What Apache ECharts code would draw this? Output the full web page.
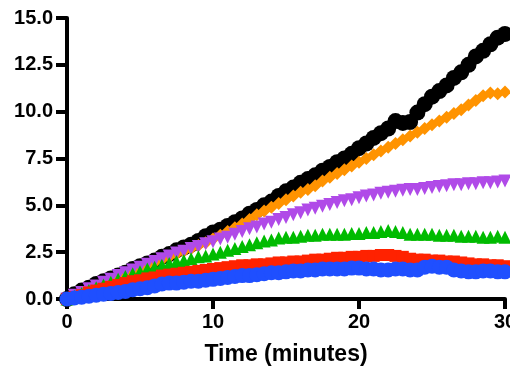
<!DOCTYPE html>
<html>
<head>
<meta charset="utf-8">
<script src="https://cdn.jsdelivr.net/npm/echarts@6/dist/echarts.min.js"></script>
<style>html,body{margin:0;padding:0;background:#fff}#c{width:510px;height:382px}</style>
</head>
<body>
<div id="c"></div>
<script>
var times = [0,0.5,1,1.5,2,2.5,3,3.5,4,4.5,5,5.5,6,6.5,7,7.5,8,8.5,9,9.5,10,10.5,11,11.5,12,12.5,13,13.5,14,14.5,15,15.5,16,16.5,17,17.5,18,18.5,19,19.5,20,20.5,21,21.5,22,22.5,23,23.5,24,24.5,25,25.5,26,26.5,27,27.5,28,28.5,29,29.5,30];
var blackVals = [0,0.25,0.45,0.6,0.8,0.95,1.1,1.25,1.4,1.6,1.75,1.9,2.05,2.25,2.4,2.6,2.75,2.9,3.1,3.35,3.55,3.7,3.9,4.1,4.3,4.55,4.75,5.0,5.2,5.5,5.75,5.95,6.2,6.4,6.6,6.85,7.05,7.3,7.5,7.75,8.05,8.3,8.6,8.85,9.1,9.5,9.4,9.45,9.95,10.4,10.8,11.1,11.4,11.8,12.1,12.5,12.95,13.25,13.6,13.95,14.15];
var orangeVals = [0,0.15,0.3,0.45,0.6,0.8,0.95,1.15,1.3,1.45,1.6,1.8,1.95,2.1,2.25,2.4,2.55,2.7,2.85,3.0,3.2,3.4,3.6,3.8,4.0,4.25,4.5,4.7,4.9,5.1,5.3,5.5,5.7,5.85,6.05,6.3,6.5,6.7,6.9,7.1,7.3,7.5,7.7,7.9,8.1,8.3,8.5,8.7,8.9,9.1,9.3,9.5,9.7,9.9,10.1,10.35,10.6,10.85,11.0,10.95,11.05];
var purpleVals = [0,0.2,0.35,0.55,0.7,0.9,1.05,1.25,1.4,1.55,1.7,1.85,2.0,2.15,2.3,2.45,2.55,2.7,2.8,2.95,3.05,3.2,3.3,3.45,3.6,3.75,3.85,4.0,4.1,4.25,4.35,4.5,4.6,4.75,4.85,4.95,5.05,5.15,5.25,5.3,5.4,5.5,5.55,5.65,5.7,5.75,5.8,5.85,5.85,5.9,5.95,6.0,6.05,6.1,6.1,6.15,6.15,6.2,6.2,6.25,6.3];
var greenVals = [0,0.15,0.3,0.45,0.6,0.75,0.9,1.05,1.2,1.35,1.45,1.6,1.7,1.8,1.9,2.0,2.05,2.15,2.25,2.3,2.4,2.5,2.6,2.7,2.8,2.9,3.0,3.1,3.15,3.25,3.3,3.3,3.35,3.4,3.4,3.45,3.45,3.45,3.45,3.5,3.5,3.55,3.55,3.6,3.65,3.6,3.55,3.45,3.45,3.45,3.45,3.4,3.4,3.4,3.35,3.35,3.35,3.3,3.3,3.35,3.3];
var redVals = [0,0.1,0.2,0.35,0.45,0.55,0.65,0.75,0.85,0.95,1.0,1.1,1.15,1.25,1.3,1.35,1.4,1.45,1.5,1.55,1.6,1.65,1.7,1.75,1.8,1.8,1.85,1.85,1.9,1.95,1.95,2.0,2.0,2.05,2.1,2.1,2.15,2.2,2.2,2.25,2.25,2.3,2.3,2.35,2.35,2.3,2.25,2.15,2.1,2.1,2.05,2.05,2.0,2.0,1.95,1.9,1.85,1.85,1.8,1.8,1.75];
var blueVals = [0,0.05,0.1,0.15,0.2,0.25,0.3,0.35,0.4,0.5,0.55,0.6,0.7,0.8,0.85,0.85,0.9,0.95,0.95,1.0,1.05,1.1,1.15,1.2,1.25,1.25,1.3,1.35,1.4,1.4,1.45,1.5,1.5,1.55,1.55,1.6,1.6,1.6,1.6,1.65,1.65,1.6,1.6,1.55,1.55,1.6,1.6,1.55,1.55,1.7,1.75,1.7,1.7,1.55,1.5,1.45,1.45,1.5,1.5,1.45,1.45];
var xTicks = [0,10,20,30];
var yTicks = [0,2.5,5,7.5,10,12.5,15];

function pts(vals){ return vals.map(function(v,i){ return [times[i], v]; }); }
function ser(vals, color, symbol, size, rot){
  return {type:'scatter', data:pts(vals), symbol:symbol, symbolSize:size, symbolRotate:rot||0,
    itemStyle:{color:color, opacity:1}, clip:false, silent:true};
}
var font = 'Liberation Sans, Arial, sans-serif';
var chart = echarts.init(document.getElementById('c'), null, {renderer:'canvas'});
chart.setOption({
  animation:false,
  backgroundColor:'#fff',
  grid:{left:67, right:5, top:18, bottom:83, containLabel:false, outerBoundsMode:'none'},
  xAxis:{type:'value', min:xTicks[0], max:xTicks[xTicks.length-1], interval:10,
    name:'Time (minutes)', nameLocation:'middle', nameGap:44,
    nameTextStyle:{fontFamily:font, fontWeight:'bold', fontSize:23, color:'#000'},
    axisLine:{lineStyle:{color:'#000', width:4}},
    axisTick:{show:true, length:10, lineStyle:{color:'#000', width:4}},
    axisLabel:{margin:13, fontFamily:font, fontWeight:'bold', fontSize:20, color:'#000', hideOverlap:false},
    splitLine:{show:false}},
  yAxis:{type:'value', min:yTicks[0], max:yTicks[yTicks.length-1], interval:2.5,
    axisLine:{show:true, lineStyle:{color:'#000', width:4}},
    axisTick:{show:true, length:11, lineStyle:{color:'#000', width:4}},
    axisLabel:{margin:14, fontFamily:font, fontWeight:'bold', fontSize:20, color:'#000',
      formatter:function(v){ return v.toFixed(1); }},
    splitLine:{show:false}},
  series:[
    ser(blackVals,'#000000','circle',16),
    ser(orangeVals,'#FF9300','diamond',13),
    ser(purpleVals,'#B04AE8','triangle',13,180),
    ser(greenVals,'#00BB00','triangle',13),
    ser(redVals,'#FF2200','rect',12),
    ser(blueVals,'#1F4FFF','circle',15)
  ]
});
</script>
</body>
</html>
